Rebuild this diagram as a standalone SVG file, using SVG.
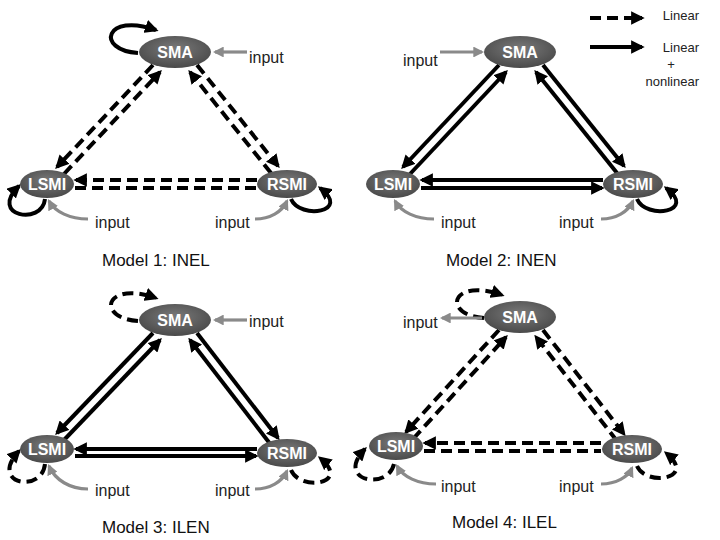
<svg xmlns="http://www.w3.org/2000/svg" width="720" height="540" viewBox="0 0 720 540">
<defs>
<marker id="ah" viewBox="0 0 10 10" refX="8" refY="5" markerWidth="3.4" markerHeight="3.4" orient="auto" markerUnits="strokeWidth"><path d="M0,0 L10,5 L0,10 z" fill="#000"/></marker>
<marker id="ag" viewBox="0 0 10 10" refX="8" refY="5" markerWidth="3.4" markerHeight="3.4" orient="auto" markerUnits="strokeWidth"><path d="M0,0 L10,5 L0,10 z" fill="#8a8a8a"/></marker>
<radialGradient id="gr" cx="50%" cy="40%" r="60%"><stop offset="0" stop-color="#7a7a7a"/><stop offset="1" stop-color="#4a4a4a"/></radialGradient>
</defs>
<style>
.s{fill:none;stroke:#000;stroke-width:4;marker-end:url(#ah)}
.d{fill:none;stroke:#000;stroke-width:4;stroke-dasharray:11,6;marker-end:url(#ah)}
.g{fill:none;stroke:#8a8a8a;stroke-width:3.2;marker-end:url(#ag)}
.n{fill:url(#gr)}
.nl{font-family:"Liberation Sans",Arial,sans-serif;font-size:16px;font-weight:bold;fill:#fff;text-anchor:middle}
.t{font-family:"Liberation Sans",Arial,sans-serif;font-size:16px;fill:#222}
.ti{font-family:"Liberation Sans",Arial,sans-serif;font-size:17px;fill:#111}
</style>
<rect width="720" height="540" fill="#fff"/>

<!-- Model 1 -->
<g id="model1">
<g id="m1-connectors">
<path class="d" d="M153,65 L57,167"/><path class="d" d="M64,174 L160,72"/>
<path class="d" d="M197,65 L278,166"/><path class="d" d="M271,173 L190,72"/>
<path class="d" d="M257,180 L76,180"/><path class="d" d="M75,188 L256,188" style="marker-end:none"/>
<path class="s" d="M138,53 C95,50 105,12 156,30"/>
<path class="s" d="M45,199 C42,226 -12,216 19,186"/>
<path class="s" d="M291,199 C300,220 352,212 320,188"/>
<path class="g" d="M247,52 L215,52"/>
<path class="g" d="M88,219 C70,219 55,212 49,201"/>
<path class="g" d="M255,219 C270,219 282,212 287,201"/>
</g>
<g id="m1-sma"><ellipse class="n" cx="175" cy="52" rx="36" ry="16"/><text class="nl" x="175" y="58">SMA</text></g>
<g id="m1-lsmi"><ellipse class="n" cx="47" cy="184" rx="27" ry="14"/><text class="nl" x="47" y="190">LSMI</text></g>
<g id="m1-rsmi"><ellipse class="n" cx="287" cy="184" rx="30" ry="14"/><text class="nl" x="287" y="190">RSMI</text></g>
<text class="t" x="249" y="63">input</text>
<text class="t" x="95" y="228">input</text>
<text class="t" x="215" y="228">input</text>
<text class="ti" x="102" y="266">Model 1: INEL</text>
</g>

<!-- Model 2 -->
<g id="model2" transform="translate(346,0)">
<g id="m2-connectors">
<path class="s" d="M153,65 L57,167"/><path class="s" d="M64,174 L160,72"/>
<path class="s" d="M197,65 L278,166"/><path class="s" d="M271,173 L190,72"/>
<path class="s" d="M257,180 L76,180"/><path class="s" d="M75,188 L256,188"/>
<path class="s" d="M291,199 C300,220 352,212 320,188"/>
<path class="g" d="M94,52 L136,52"/>
<path class="g" d="M88,219 C70,219 55,212 49,201"/>
<path class="g" d="M255,219 C270,219 282,212 287,201"/>
</g>
<g id="m2-sma"><ellipse class="n" cx="174" cy="52" rx="36" ry="16"/><text class="nl" x="174" y="58">SMA</text></g>
<g id="m2-lsmi"><ellipse class="n" cx="47" cy="184" rx="27" ry="14"/><text class="nl" x="47" y="190">LSMI</text></g>
<g id="m2-rsmi"><ellipse class="n" cx="287" cy="184" rx="30" ry="14"/><text class="nl" x="287" y="190">RSMI</text></g>
<text class="t" x="57" y="66">input</text>
<text class="t" x="95" y="228">input</text>
<text class="t" x="213" y="228">input</text>
<text class="ti" x="100" y="266">Model 2: INEN</text>
</g>

<!-- Model 3 -->
<g id="model3" transform="translate(0,268)">
<g id="m3-connectors">
<path class="s" d="M153,65 L57,165"/><path class="s" d="M64,172 L160,72"/>
<path class="s" d="M197,65 L278,170"/><path class="s" d="M271,177 L190,72"/>
<path class="s" d="M257,181 L76,181"/><path class="s" d="M75,188 L256,188"/>
<path class="d" d="M138,53 C95,50 105,12 156,30"/>
<path class="d" d="M45,196 C42,226 -12,216 19,183"/>
<path class="d" d="M291,202 C300,224 352,216 320,190"/>
<path class="g" d="M247,52 L215,52"/>
<path class="g" d="M88,221 C70,221 55,212 49,198"/>
<path class="g" d="M255,221 C270,221 282,214 287,203"/>
</g>
<g id="m3-sma"><ellipse class="n" cx="175" cy="52" rx="36" ry="16"/><text class="nl" x="175" y="58">SMA</text></g>
<g id="m3-lsmi"><ellipse class="n" cx="47" cy="181" rx="27" ry="14"/><text class="nl" x="47" y="187">LSMI</text></g>
<g id="m3-rsmi"><ellipse class="n" cx="287" cy="185" rx="30" ry="14"/><text class="nl" x="287" y="191">RSMI</text></g>
<text class="t" x="249" y="59">input</text>
<text class="t" x="95" y="228">input</text>
<text class="t" x="215" y="228">input</text>
<text class="ti" x="102" y="265">Model 3: ILEN</text>
</g>

<!-- Model 4 -->
<g id="model4" transform="translate(346,265)">
<g id="m4-connectors">
<path class="d" d="M153,65 L60,167"/><path class="d" d="M67,174 L160,72"/>
<path class="d" d="M197,65 L278,169"/><path class="d" d="M271,176 L190,72"/>
<path class="d" d="M255,178 L79,178"/><path class="d" d="M78,186 L255,186" style="marker-end:none"/>
<path class="d" d="M138,53 C95,50 105,12 156,30"/>
<path class="d" d="M48,199 C42,226 -12,216 19,184"/>
<path class="d" d="M291,201 C300,222 352,214 320,188"/>
<path class="g" d="M136,53 L96,53"/>
<path class="g" d="M90,219 C72,219 57,212 51,201"/>
<path class="g" d="M255,219 C270,219 282,212 286,203"/>
</g>
<g id="m4-sma"><ellipse class="n" cx="174" cy="52" rx="36" ry="16"/><text class="nl" x="174" y="58">SMA</text></g>
<g id="m4-lsmi"><ellipse class="n" cx="50" cy="181" rx="27" ry="14"/><text class="nl" x="50" y="187">LSMI</text></g>
<g id="m4-rsmi"><ellipse class="n" cx="286" cy="184" rx="30" ry="14"/><text class="nl" x="286" y="190">RSMI</text></g>
<text class="t" x="57" y="63">input</text>
<text class="t" x="95" y="227">input</text>
<text class="t" x="213" y="227">input</text>
<text class="ti" x="106" y="263">Model 4: ILEL</text>
</g>

<!-- Legend -->
<g id="legend">
<path class="d" d="M590,18 L642,18"/>
<path class="s" d="M590,47 L642,47"/>
<text class="t" x="699" y="20" text-anchor="end" style="font-size:13px">Linear</text>
<text class="t" x="699" y="52" text-anchor="end" style="font-size:13px">Linear</text>
<text class="t" x="671" y="69" text-anchor="middle" style="font-size:13px">+</text>
<text class="t" x="699" y="86" text-anchor="end" style="font-size:13px">nonlinear</text>
</g>
</svg>
